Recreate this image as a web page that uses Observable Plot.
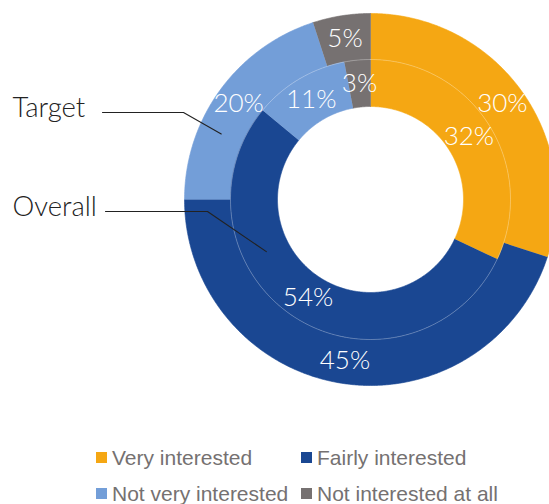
<!DOCTYPE html>
<html><head><meta charset="utf-8">
<script src="https://cdn.jsdelivr.net/npm/d3@7"></script>
<script src="https://cdn.jsdelivr.net/npm/@observablehq/plot@0.6"></script>
<style>
body{margin:0;background:#fff;}
#wrap{position:relative;width:549px;height:504px;overflow:hidden;background:#fff;}
#wrap svg{position:absolute;left:0;top:0;}
.lg{position:absolute;font-family:"Liberation Sans",Arial,sans-serif;font-size:21px;color:#757171;white-space:nowrap;line-height:1;}
.lg span.sw{position:absolute;width:11px;height:11px;left:0;top:5px;}
.lg span.tx{position:absolute;left:16px;top:0;}
</style></head><body><div id="wrap"></div>
<script>
// ---- data ----
const categories = ["Very interested", "Fairly interested", "Not very interested", "Not interested at all"];
const colors = ["#F5A713", "#1A4792", "#739ED8", "#767171"];
const ringNames = ["Target", "Overall"];
const targetValues = [30, 45, 20, 5];
const overallValues = [32, 54, 11, 3];

// ---- layout ----
const W = 549, H = 430, cx = 370, cy = 199, R = 186;
const ringRadii = {Target: [140 / R, 1], Overall: [93 / R, 140 / R]};
const seriesByRing = {Target: targetValues, Overall: overallValues};
const toX = (px) => (px - cx) / R, toY = (py) => (cy - py) / R;
const polar = (deg, r) => [r * Math.sin(deg * Math.PI / 180), r * Math.cos(deg * Math.PI / 180)];

const slicePts = [], labels = [];
for (const ring of ringNames) {
  const vals = seriesByRing[ring];
  const total = d3.sum(vals);
  const [r0, r1] = ringRadii[ring];
  let acc = 0;
  vals.forEach((v, i) => {
    const a0 = acc / total * 360, a1 = (acc + v) / total * 360;
    acc += v;
    const n = Math.max(2, Math.ceil((a1 - a0) / 0.5));
    const key = ring + "-" + categories[i];
    for (let k = 0; k <= n; k++) { const [x, y] = polar(a0 + (a1 - a0) * k / n, r1); slicePts.push({key, cat: categories[i], x, y}); }
    for (let k = n; k >= 0; k--) { const [x, y] = polar(a0 + (a1 - a0) * k / n, r0); slicePts.push({key, cat: categories[i], x, y}); }
    const [lx, ly] = polar((a0 + a1) / 2, (r0 + r1) / 2);
    labels.push({x: lx, y: ly, text: v + "%"});
  });
}
// thin separator circle between rings
const sep = d3.range(0, 361, 1).map(a => { const [x, y] = polar(a, ringRadii.Target[0]); return {x, y}; });

// leader lines for ring names
const leaders = [
  {name: "Target", textX: 12, lineY: 112, x0: 102, elbowX: 183, angle: 293.7},
  {name: "Overall", textX: 12, lineY: 211, x0: 105, elbowX: 207, angle: 243.4}
];
const leaderPts = [];
for (const l of leaders) {
  const [r0, r1] = ringRadii[l.name];
  const [ex, ey] = polar(l.angle, (r0 + r1) / 2);
  leaderPts.push({name: l.name, x: toX(l.x0), y: toY(l.lineY)});
  leaderPts.push({name: l.name, x: toX(l.elbowX), y: toY(l.lineY)});
  leaderPts.push({name: l.name, x: ex, y: ey});
}

const chart = Plot.plot({
  width: W, height: H, margin: 0,
  x: {domain: [toX(0), toX(W)], range: [0, W], axis: null},
  y: {domain: [toY(H), toY(0)], range: [H, 0], axis: null},
  color: {domain: categories, range: colors},
  style: {background: "transparent"},
  marks: [
    Plot.line(slicePts, {x: "x", y: "y", z: "key", fill: "cat", stroke: "cat", strokeWidth: 0.6, curve: "linear"}),
    Plot.line(sep, {x: "x", y: "y", stroke: "#ffffff", strokeOpacity: 0.35, strokeWidth: 0.8}),
    Plot.text(labels, {x: "x", y: "y", text: "text", fill: "#ffffff", fontSize: 26, fontWeight: 300, fontFamily: "Lato, 'Open Sans', sans-serif"}),
    Plot.line(leaderPts, {x: "x", y: "y", z: "name", stroke: "#222222", strokeWidth: 1.1}),
    Plot.text(leaders, {x: d => toX(d.textX), y: d => toY(d.lineY), text: "name", textAnchor: "start", lineAnchor: "bottom", dy: 4, fill: "#222222", fontSize: 27.5, fontWeight: 300, fontFamily: "Lato, 'Open Sans', sans-serif"})
  ]
});
const wrap = document.getElementById("wrap");
wrap.appendChild(chart);

// legend (2 x 2)
const legPos = [[96, 447], [301, 447], [96, 483], [301, 483]];
categories.forEach((c, i) => {
  const d = document.createElement("div");
  d.className = "lg";
  d.style.left = legPos[i][0] + "px";
  d.style.top = legPos[i][1] + "px";
  d.innerHTML = `<span class="sw" style="background:${colors[i]}"></span><span class="tx">${c}</span>`;
  wrap.appendChild(d);
});
</script></body></html>
